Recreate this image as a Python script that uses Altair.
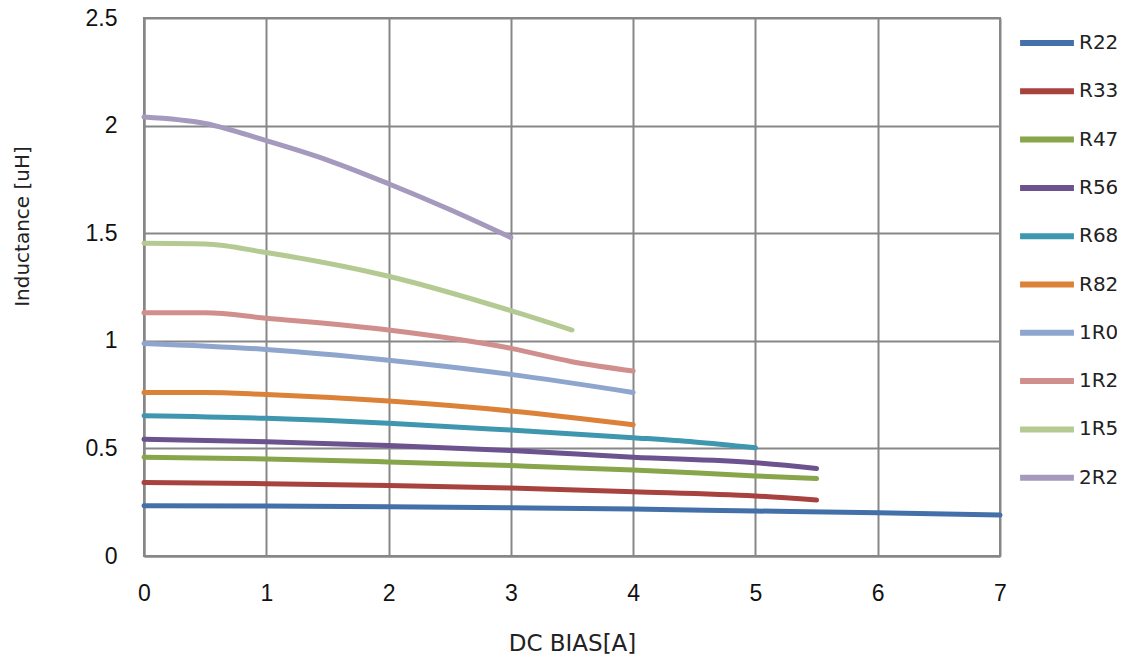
import altair as alt
import pandas as pd

series = ["R22", "R33", "R47", "R56", "R68", "R82", "1R0", "1R2", "1R5", "2R2"]
colors = ["#4370A8", "#A8423F", "#87A54A", "#6C528E", "#3E97AF",
          "#DC8138", "#8EA6CD", "#D08E8D", "#B5CA92", "#A599BE"]

bias_R22 = [0, 1, 2, 3, 4, 5, 6, 7]
L_R22 = [0.234, 0.232, 0.229, 0.224, 0.218, 0.209, 0.201, 0.19]
bias_R33 = [0, 1, 2, 3, 4, 5, 5.5]
L_R33 = [0.341, 0.336, 0.328, 0.316, 0.299, 0.279, 0.26]
bias_R47 = [0, 1, 2, 3, 4, 5, 5.5]
L_R47 = [0.459, 0.451, 0.437, 0.42, 0.40, 0.372, 0.36]
bias_R56 = [0, 1, 2, 3, 4, 5, 5.5]
L_R56 = [0.542, 0.531, 0.513, 0.49, 0.459, 0.433, 0.407]
bias_R68 = [0, 1, 2, 3, 4, 4.5, 5]
L_R68 = [0.652, 0.64, 0.617, 0.585, 0.55, 0.53, 0.503]
bias_R82 = [0, 0.5, 1, 2, 3, 4]
L_R82 = [0.76, 0.76, 0.75, 0.72, 0.674, 0.61]
bias_1R0 = [0, 1, 2, 3, 4]
L_1R0 = [0.988, 0.96, 0.91, 0.844, 0.76]
bias_1R2 = [0, 0.5, 1, 2, 3, 3.5, 4]
L_1R2 = [1.13, 1.13, 1.105, 1.05, 0.965, 0.903, 0.86]
bias_1R5 = [0, 0.5, 1, 2, 3, 3.5]
L_1R5 = [1.453, 1.45, 1.41, 1.30, 1.14, 1.05]
bias_2R2 = [0, 0.5, 1, 1.5, 2, 2.5, 3]
L_2R2 = [2.04, 2.01, 1.93, 1.84, 1.73, 1.61, 1.48]

x_ticks = [0, 1, 2, 3, 4, 5, 6, 7]
y_ticks = [0, 0.5, 1, 1.5, 2, 2.5]

pairs = {
    "R22": (bias_R22, L_R22), "R33": (bias_R33, L_R33), "R47": (bias_R47, L_R47),
    "R56": (bias_R56, L_R56), "R68": (bias_R68, L_R68), "R82": (bias_R82, L_R82),
    "1R0": (bias_1R0, L_1R0), "1R2": (bias_1R2, L_1R2), "1R5": (bias_1R5, L_1R5),
    "2R2": (bias_2R2, L_2R2),
}
rows = []
for s in series:
    xs, ys = pairs[s]
    for x, y in zip(xs, ys):
        rows.append({"series": s, "bias": x, "L": y})
df = pd.DataFrame(rows)

TICK_FONT = "Liberation Sans"
TEXT_FONT = "DejaVu Sans"

chart = alt.Chart(df).mark_line(
    interpolate="monotone", strokeWidth=5, strokeCap="round", strokeJoin="round"
).encode(
    x=alt.X("bias:Q", scale=alt.Scale(domain=[0, 7], nice=False),
            axis=alt.Axis(title="DC BIAS[A]", values=x_ticks, format="~g",
                          labelFlush=False,
                          labelPadding=26, titlePadding=27, titleFontSize=23)),
    y=alt.Y("L:Q", scale=alt.Scale(domain=[0, 2.5], nice=False),
            axis=alt.Axis(title="Inductance [uH]", values=y_ticks,
                          format="~g", labelFlush=False,
                          labelPadding=27, titlePadding=53,
                          titleFontSize=20, titleY=208)),
    color=alt.Color("series:N", sort=series,
                    scale=alt.Scale(domain=series, range=colors),
                    legend=alt.Legend(title=None, orient="none", legendX=873, legendY=15,
                                      symbolType="stroke", symbolSize=2900,
                                      symbolStrokeWidth=6, clipHeight=20,
                                      rowPadding=28.3, labelOffset=2, padding=0,
                                      labelFontSize=20, labelFont=TEXT_FONT,
                                      labelColor="#222222")),
    order=alt.Order("bias:Q"),
).properties(
    width=856, height=538,
    autosize=alt.AutoSizeParams(type="none"),
    padding={"left": 136, "top": 10, "right": 117, "bottom": 98},
).configure_view(
    stroke="#878787", strokeWidth=2
).configure_axis(
    gridColor="#878787", gridWidth=2, gridOpacity=1,
    domainColor="#878787", domainWidth=2,
    tickSize=0, labelFont=TICK_FONT, labelFontSize=23, labelColor="#111111",
    titleFont=TEXT_FONT, titleFontWeight="normal", titleColor="#222222",
)

chart.save("out.html", embed_options={"renderer": "svg", "actions": False})
